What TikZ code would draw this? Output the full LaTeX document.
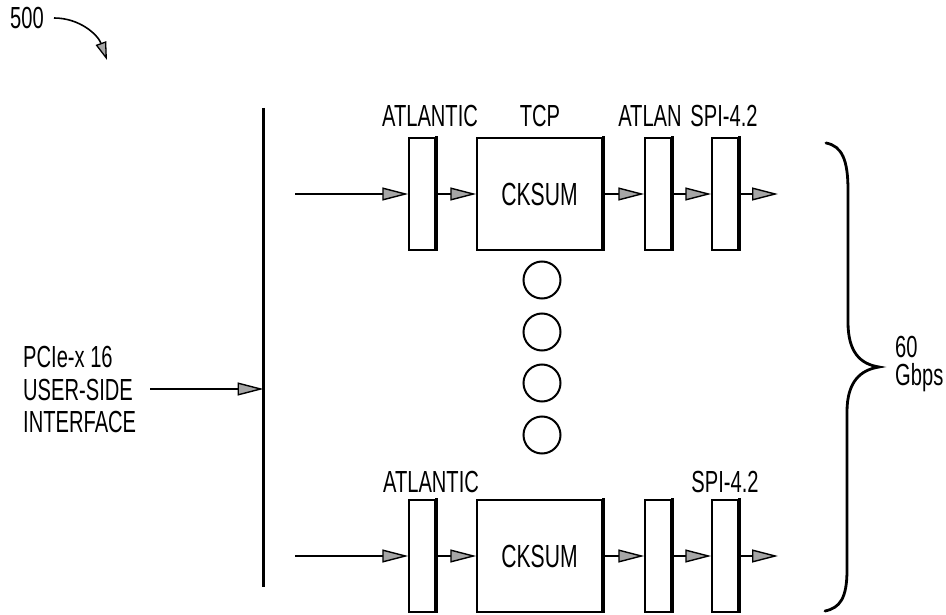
\documentclass[tikz,border=0pt]{standalone}
\usepackage{fontspec}
\setmainfont{Liberation Sans}[FakeStretch=0.66]
\usetikzlibrary{arrows.meta}
\begin{document}
\begin{tikzpicture}[x=1pt,y=-1pt,
  lbl/.style={font=\fontsize{30.5}{32.5}\selectfont, inner sep=0pt, anchor=base},
  lblw/.style={lbl, anchor=base west},
  thinbox/.style={draw, line width=1.5pt, minimum width=26pt, minimum height=112pt, inner sep=0pt},
  bigbox/.style={draw, line width=1.5pt, minimum width=125pt, minimum height=112pt, inner sep=0pt, font=\fontsize{32}{34}\selectfont},
  shadowline/.style={line width=3pt},
  flow/.style={line width=1.6pt, -{Triangle[length=26pt,width=13pt,fill=gray!70,line width=1.4pt]}},
  dot/.style={circle, draw, line width=2pt, minimum size=37pt, inner sep=0pt},
]
\useasboundingbox (0,0) rectangle (946,615);

% reference label
\node[lbl, anchor=center] (ref) at (27,18) {500};
\coordinate (refend) at (107,60);
\draw[line width=1.6pt, -{Triangle[length=18pt,width=11pt,fill=gray!70,line width=1.3pt]}]
  (ref.east) ++(10,0) coordinate (refstart) (refstart) .. controls (80,18) and (98,35) .. (refend);

% bus line
\coordinate (bustop) at (263.5,108);
\coordinate (busbot) at (263.5,587);
\draw[line width=3pt] (bustop) -- (busbot);

% user-side interface
\node[lblw] (t1) at (23,367) {PCIe-x 16};
\node[lblw] (t2) at (23,400) {USER-SIDE};
\node[lblw] (t3) at (23,432) {INTERFACE};
\coordinate (pin) at (150,389);
\coordinate (busin) at (263.5,389);
\draw[flow] (pin) -- (busin);

% top row
\node[thinbox] (a1) at (422,194) {};
\node[bigbox]  (c1) at (539.5,194) {CKSUM};
\node[thinbox] (l1) at (658,194) {};
\node[thinbox] (s1) at (725,194) {};
\coordinate (in1) at (295,194);
\coordinate (out1) at (778,194);
\draw[flow] (in1) -- (a1.west);
\draw[flow] (a1.east) -- (c1.west);
\draw[flow] (c1.east) -- (l1.west);
\draw[flow] (l1.east) -- (s1.west);
\draw[flow] (s1.east) -- (out1);

\node[lbl] (la1) at (430,127) {ATLANTIC};
\node[lbl] (lt1) at (540,127) {TCP};
\node[lbl] (ll1) at (650,127) {ATLAN};
\node[lbl] (ls1) at (724,127) {SPI-4.2};

% bottom row
\node[thinbox] (a2) at (422,556) {};
\node[bigbox]  (c2) at (539.5,556) {CKSUM};
\node[thinbox] (l2) at (658,556) {};
\node[thinbox] (s2) at (725,556) {};
\coordinate (in2) at (295,556);
\coordinate (out2) at (778,556);
\draw[flow] (in2) -- (a2.west);
\draw[flow] (a2.east) -- (c2.west);
\draw[flow] (c2.east) -- (l2.west);
\draw[flow] (l2.east) -- (s2.west);
\draw[flow] (s2.east) -- (out2);

\node[lbl] (la2) at (431,492) {ATLANTIC};
\node[lbl] (ls2) at (725,492) {SPI-4.2};

% box shadows
\foreach \b in {a1,c1,l1,s1,a2,c2,l2,s2}{
  \draw[shadowline] ([xshift=0.8pt,yshift=1pt]\b.north east) -- ([xshift=0.8pt]\b.south east);
}

% ellipsis circles
\node[dot] (d1) at (542,280) {};
\node[dot] (d2) at (542,332) {};
\node[dot] (d3) at (542,383) {};
\node[dot] (d4) at (542,435) {};

% brace
\coordinate (brtop) at (826,143);
\coordinate (brtip) at (879,367);
\coordinate (brbot) at (825,611);
\draw[line width=2.8pt, line cap=round]
  (brtop) .. controls (842,146) and (848,160) .. (848,190)
  -- (848,322) .. controls (848,352) and (860,364) .. (brtip)
  .. controls (860,370) and (847,382) .. (847,412)
  -- (847,570) .. controls (847,598) and (840,608) .. (brbot);

\node[lblw] (g1) at (895,357) {60};
\node[lblw] (g2) at (895,385) {Gbps};
\end{tikzpicture}
\end{document}
